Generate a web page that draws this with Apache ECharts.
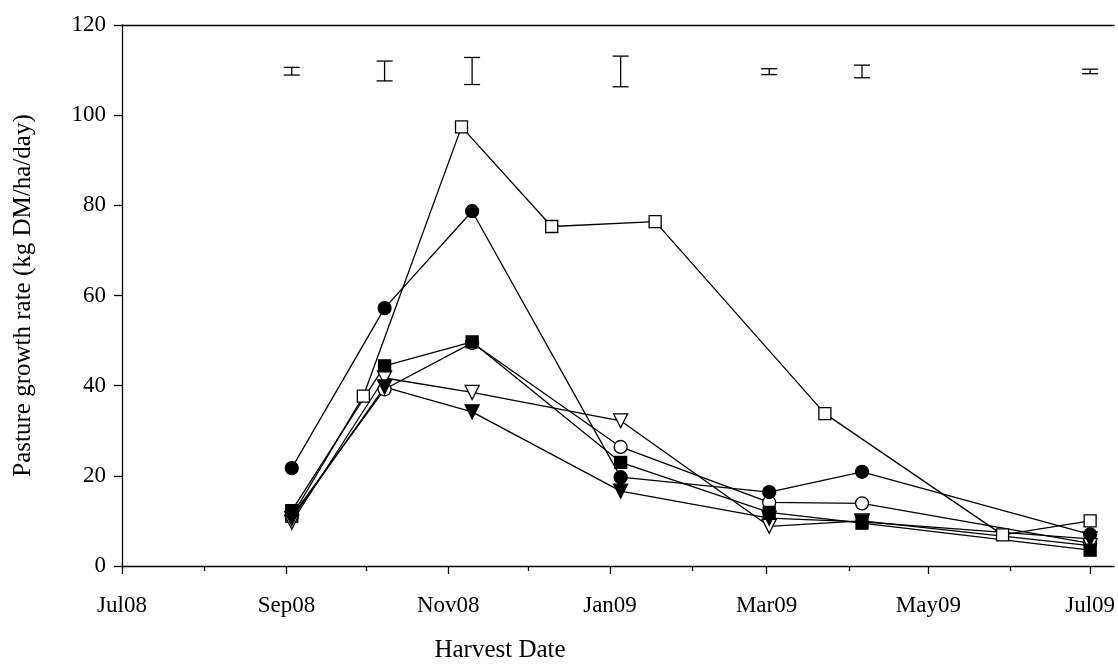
<!DOCTYPE html>
<html>
<head>
<meta charset="utf-8">
<script src="https://cdn.jsdelivr.net/npm/echarts@6/dist/echarts.min.js"></script>
<style>
  html, body { margin: 0; padding: 0; background: #fff; }
  #chart { width: 1118px; height: 664px; }
</style>
</head>
<body>
<div id="chart"></div>
<script>
// harvest dates
const mainDates = ['2008-09-03', '2008-10-08', '2008-11-10', '2009-01-05', '2009-03-02', '2009-04-06', '2009-07-01'];
const sqDates = ['2008-09-03', '2008-09-30', '2008-11-06', '2008-12-10', '2009-01-18', '2009-03-23', '2009-05-29', '2009-07-01'];

// growth rates, kg DM/ha/day
const openSquare = [11.0, 37.7, 97.4, 75.3, 76.4, 33.8, 6.9, 10.0];
const openCircle = [11.0, 39.2, 49.5, 26.4, 14.1, 13.9, 5.0];
const filledCircle = [21.7, 57.2, 78.7, 19.7, 16.4, 20.9, 7.0];
const openTriDown = [9.7, 41.7, 38.5, 32.2, 8.8, 10.0, 4.5];
const filledTriDown = [10.5, 39.7, 34.2, 16.6, 10.6, 9.8, 6.0];
const filledSquare = [12.3, 44.4, 49.7, 23.0, 11.9, 9.5, 3.5];

// LSD bars
const lsdDates = ['2008-09-03', '2008-10-08', '2008-11-10', '2009-01-05', '2009-03-02', '2009-04-06', '2009-07-01'];
const lsdLow = [108.9, 107.6, 106.8, 106.3, 109.0, 108.3, 109.2];
const lsdHigh = [110.6, 112.0, 112.8, 113.1, 110.3, 111.1, 110.2];

// x ticks
const majorTicks = ['2008-07-01', '2008-09-01', '2008-11-01', '2009-01-01', '2009-03-01', '2009-05-01', '2009-07-01'];
const majorLabels = ['Jul08', 'Sep08', 'Nov08', 'Jan09', 'Mar09', 'May09', 'Jul09'];
const minorTicks = ['2008-08-01', '2008-10-01', '2008-12-01', '2009-02-01', '2009-04-01', '2009-06-01'];
const xMin = '2008-07-01';
const xMax = '2009-07-10';

// days since epoch (UTC) so the axis is a plain linear date scale
const day = s => Date.parse(s + 'T00:00:00Z') / 86400000;

const labelOf = {};
majorTicks.forEach((d, i) => { labelOf[day(d)] = majorLabels[i]; });

const FONT = 'Liberation Serif, Times New Roman, serif';
const lineStyle = { color: '#000', width: 1.3 };

function makeSeries(dates, vals, symbol, filled, size, rotate) {
  return {
    type: 'line',
    data: dates.map((d, i) => [day(d), vals[i]]),
    symbol,
    symbolSize: size,
    symbolRotate: rotate || 0,
    showAllSymbol: true,
    lineStyle,
    itemStyle: { color: filled ? '#000' : '#fff', borderColor: '#000', borderWidth: 1.3 },
    emphasis: { disabled: true },
    z: 3
  };
}

const baseX = {
  type: 'value',
  min: day(xMin),
  max: day(xMax),
  scale: true,
  splitLine: { show: false }
};

const chart = echarts.init(document.getElementById('chart'));

chart.setOption({
  animation: false,
  backgroundColor: '#fff',
  grid: { left: 122, right: 4, top: 25, bottom: 98, containLabel: false, outerBoundsMode: 'none' },
  xAxis: [
    Object.assign({}, baseX, {
      position: 'bottom',
      name: 'Harvest Date',
      nameLocation: 'middle',
      nameGap: 72,
      nameTextStyle: { fontFamily: FONT, fontSize: 25, color: '#000', padding: [0, 236, 0, 0] },
      axisLine: { show: true, onZero: false, lineStyle: { color: '#000', width: 1.3 } },
      axisTick: { show: true, inside: false, length: 8, customValues: majorTicks.map(day), lineStyle: { color: '#000', width: 1.3 } },
      axisLabel: {
        customValues: majorTicks.map(day),
        formatter: v => labelOf[v] || '',
        fontFamily: FONT, fontSize: 23, color: '#000', margin: 28
      }
    }),
    Object.assign({}, baseX, {
      position: 'bottom',
      axisLine: { show: false, onZero: false },
      axisTick: { show: true, length: 5, customValues: minorTicks.map(day), lineStyle: { color: '#000', width: 1.3 } },
      axisLabel: { show: false }
    }),
    Object.assign({}, baseX, {
      position: 'top',
      axisLine: { show: true, onZero: false, lineStyle: { color: '#000', width: 1.3 } },
      axisTick: { show: false },
      axisLabel: { show: false }
    })
  ],
  yAxis: {
    type: 'value',
    min: 0,
    max: 120,
    interval: 20,
    name: 'Pasture growth rate (kg DM/ha/day)',
    nameLocation: 'middle',
    nameRotate: 90,
    nameGap: 86,
    nameTextStyle: { fontFamily: FONT, fontSize: 25, color: '#000' },
    axisLine: { show: true, onZero: false, lineStyle: { color: '#000', width: 1.3 } },
    axisTick: { show: true, length: 8, lineStyle: { color: '#000', width: 1.3 } },
    axisLabel: { fontFamily: FONT, fontSize: 23, color: '#000', margin: 16 },
    splitLine: { show: false }
  },
  series: [
    makeSeries(sqDates, openSquare, 'rect', false, 12),
    makeSeries(mainDates, openCircle, 'circle', false, 13),
    makeSeries(mainDates, filledCircle, 'circle', true, 13),
    makeSeries(mainDates, openTriDown, 'triangle', false, 14, 180),
    makeSeries(mainDates, filledTriDown, 'triangle', true, 14, 180),
    makeSeries(mainDates, filledSquare, 'rect', true, 12),
    {
      type: 'custom',
      data: lsdDates.map((d, i) => [day(d), lsdLow[i], lsdHigh[i]]),
      renderItem(params, api) {
        const top = api.coord([api.value(0), api.value(2)]);
        const bot = api.coord([api.value(0), api.value(1)]);
        const w = 8;
        const st = { stroke: '#000', lineWidth: 1.3 };
        return {
          type: 'group',
          children: [
            { type: 'line', shape: { x1: top[0], y1: top[1], x2: bot[0], y2: bot[1] }, style: st },
            { type: 'line', shape: { x1: top[0] - w, y1: top[1], x2: top[0] + w, y2: top[1] }, style: st },
            { type: 'line', shape: { x1: bot[0] - w, y1: bot[1], x2: bot[0] + w, y2: bot[1] }, style: st }
          ]
        };
      },
      z: 4
    }
  ]
});
</script>
</body>
</html>
